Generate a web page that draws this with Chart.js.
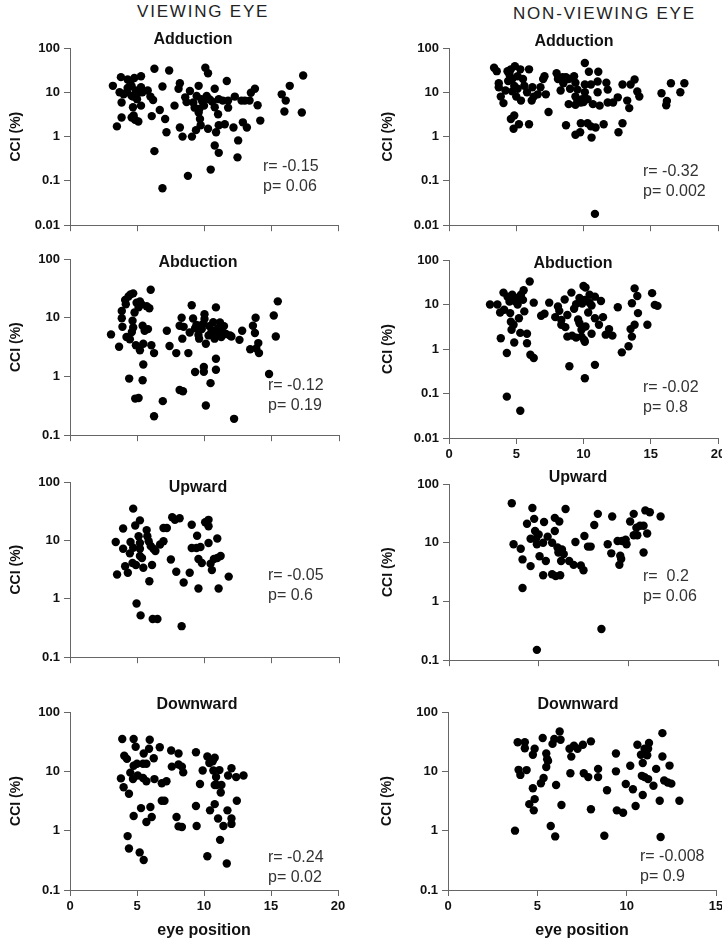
<!DOCTYPE html>
<html>
<head>
<meta charset="utf-8">
<script src="https://cdn.jsdelivr.net/npm/chart.js@4.4.1/dist/chart.umd.min.js"></script>
<style>
  html, body { margin: 0; padding: 0; background: #fff; overflow: hidden; }
  #wrap { position: relative; width: 722px; height: 941px; }
  #wrap canvas { position: absolute; }
  .head { position: absolute; font: 17px "Liberation Sans", Arial, sans-serif; letter-spacing: 1.8px;
          color: #222; white-space: nowrap; line-height: 17px; }
</style>
</head>
<body>
<div id="wrap">
  <div class="head" style="left:137px;top:3px">VIEWING EYE</div>
  <div class="head" style="left:513px;top:5px">NON-VIEWING EYE</div>
</div>
<script>
// ---------- datos (x = eye position, y = CCI %) ----------
const vAdd = [[3.2,14],[3.5,1.7],[3.8,22],[3.85,5.9],[3.85,2.7],[3.7,10],[4.3,19.5],[4.3,12.6],[4.25,10],[4.6,8.3],[4.6,13.8],[4.8,21],[4.7,4.6],[4.75,3],[4.6,2.7],[4.85,2.4],[5.1,2.2],[4.7,8],[5.3,23],[5.3,13],[5.2,10],[5.4,10],[5.3,5],[5.8,11],[6.0,8],[6.2,6.7],[6.1,2.9],[6.3,34],[6.7,4],[6.9,13.5],[7.1,2.5],[7.2,1.25],[6.3,0.47],[6.9,0.068],[7.4,31],[7.8,5],[8.1,12],[8.2,16],[8.2,1.6],[8.4,1.0],[8.6,7.7],[8.7,6],[8.8,0.13],[9.1,1.0],[9.4,1.4],[8.95,10.7],[9.2,5.9],[9.45,8.3],[9.6,14],[9.6,3.5],[9.65,4.2],[9.7,2.5],[9.75,1.8],[9.8,7],[10.1,36],[10.3,27],[10.0,5],[10.2,8.3],[10.4,7],[10.3,1.5],[10.5,0.18],[10.8,12],[10.8,4.6],[10.8,0.63],[10.9,1.25],[11.05,3.2],[11.1,1.8],[11.1,0.43],[11.1,7],[11.7,18],[11.8,6.5],[11.8,4.5],[11.55,1.9],[12.2,1.6],[12.3,8],[12.55,0.82],[12.5,0.34],[12.9,2.1],[13.2,1.6],[13.05,6.5],[13.4,6.5],[13.5,9.8],[13.8,12],[14.0,5.1],[14.2,2.3],[15.8,9.0],[16.1,6.5],[16.0,3.7],[16.4,14],[17.3,3.5],[17.4,24],[4.0,9],[4.9,11],[5.0,7],[9.9,6],[10.6,6.2],[9.3,4.5],[11.4,6.5],[12.8,6.5],[4.5,17]];
const nAdd = [[3.35,36],[3.55,30],[3.7,16],[3.7,13],[3.85,8],[4.05,5.7],[4.35,30],[4.5,25],[4.6,33],[4.7,20],[4.85,14],[4.7,10.5],[4.9,39],[5.1,23],[5.1,12],[5.0,8],[5.35,6.5],[4.6,2.5],[4.85,3],[4.8,1.5],[5.2,1.9],[5.95,1.9],[5.3,33],[5.5,20],[5.6,14],[5.95,33],[6.2,13],[6.15,6.5],[6.3,8],[6.6,9],[7.0,20],[7.1,23],[7.2,9],[7.4,3.6],[8.0,27],[8.1,20],[8.3,11],[8.45,22],[8.7,22],[8.9,20],[8.7,1.8],[8.9,5.4],[9.3,23],[9.4,16.5],[9.55,11.5],[9.4,8],[9.55,6.5],[9.4,5.2],[9.8,5.9],[10.1,46],[10.1,15],[10.1,10],[9.9,7],[9.8,2],[9.4,1.1],[9.75,1.25],[10.3,7],[10.4,29],[10.55,15],[10.7,5.4],[10.3,2],[10.55,1.7],[10.6,0.95],[10.9,1.6],[11.1,29],[11.05,17.5],[11.05,10],[11.2,5],[11.5,1.9],[11.7,16.5],[11.8,11.5],[11.8,5.9],[12.2,5.9],[12.55,7.7],[12.6,1.25],[12.9,2],[12.9,15],[13.25,6.5],[13.4,4.4],[13.5,15],[13.8,19.5],[14.0,10.4],[14.15,8],[10.85,0.018],[15.8,9.5],[16.15,5.1],[16.2,6.4],[16.5,16],[17.2,10],[17.5,16],[4.2,11],[4.4,18],[5.8,10],[9.0,12],[10.0,6],[8.5,16],[6.8,13]];
const vAbd = [[3.05,5.2],[3.65,3.2],[3.85,13],[3.85,9.8],[3.9,7],[4.1,20],[4.15,17],[4.35,23],[4.5,25],[4.7,26],[4.2,4.7],[4.45,4.3],[4.6,5.7],[4.65,8.9],[4.7,6.8],[4.8,12.3],[4.9,3.4],[4.95,18],[5.1,15],[5.2,2.8],[5.2,19],[5.3,17],[5.4,7.3],[5.45,3.6],[5.55,6],[5.7,15.7],[5.8,6.4],[5.9,14.5],[6.0,30],[6.05,3.4],[6.25,2.5],[5.45,1.6],[5.4,0.86],[4.4,0.92],[4.85,0.42],[5.1,0.43],[6.25,0.21],[6.9,0.38],[7.2,6.0],[7.4,3.3],[7.9,2.5],[8.15,7.3],[8.3,10],[8.35,4.4],[8.45,7],[8.8,2.5],[8.15,0.59],[8.4,0.56],[9.05,16.3],[9.15,9.7],[9.3,1.19],[8.9,5.6],[9.3,6.6],[9.55,5.1],[9.6,4.4],[9.65,7.3],[9.8,6.4],[9.9,7.8],[10.0,11.5],[10.0,9.5],[10.1,3.6],[9.95,1.45],[9.95,1.2],[10.1,0.32],[10.35,7.2],[10.45,0.77],[10.5,5.6],[10.65,8.4],[10.75,6.1],[10.75,4.4],[10.85,15],[10.85,2],[10.85,1.3],[11.0,5.6],[11.15,8.3],[11.25,4.7],[11.45,7.2],[11.6,5.3],[11.9,5],[12.2,0.19],[12.6,4.2],[12.8,6.0],[13.4,2.9],[13.6,7.3],[13.75,5.5],[13.8,10],[13.85,3],[14.0,3.7],[14.05,2.5],[14.8,1.1],[15.15,10.9],[15.3,4.8],[15.45,19],[9.4,7.5],[10.3,5],[11.0,6.5],[12.0,4.8],[11.3,5.8]];
const nAbd = [[3.05,10],[3.6,10],[3.8,6.6],[4.1,7.6],[3.85,1.75],[4.05,18.5],[4.35,15],[4.3,0.81],[4.3,0.085],[4.5,11.6],[4.55,6.4],[4.6,4.1],[4.65,2.7],[4.7,16.5],[4.8,3.5],[4.85,1.4],[5.0,14],[5.1,10],[5.2,4.9],[5.3,2.3],[5.3,0.041],[5.35,16.5],[5.5,12.7],[5.55,21],[5.6,7],[5.8,2.2],[5.8,1.35],[6.0,33],[6.05,0.74],[6.3,0.63],[6.3,11],[6.85,5.6],[7.1,6.2],[7.45,11],[7.9,5.2],[8.1,9],[8.2,7.2],[8.35,4.5],[8.35,3.5],[8.65,3.1],[8.8,5.8],[8.6,13],[8.8,1.9],[8.95,0.41],[9.1,18.5],[9.15,2],[9.45,1.8],[9.45,10.2],[9.6,4.6],[9.7,14],[9.7,3.8],[9.85,2.7],[9.85,1.9],[10.05,1.6],[10.0,26],[10.15,24],[10.1,12.7],[10.15,3.2],[10.1,1.45],[10.1,0.22],[10.35,6.6],[10.45,11],[10.45,16.5],[10.6,2.2],[10.85,15],[10.85,4.9],[10.85,0.44],[11.15,3.5],[11.3,12],[11.45,5.2],[11.65,2.1],[11.9,2.8],[12.15,2],[12.55,8.7],[12.85,0.84],[13.35,1.15],[13.5,2.8],[13.6,1.9],[13.6,10.7],[13.8,3.5],[13.8,23],[14.0,15.5],[14.05,6.4],[14.75,3.5],[15.1,18],[15.3,9.8],[15.5,9.3],[4.9,12],[5.2,13],[9.3,8],[9.9,10.5],[10.6,9.5]];
const vUp = [[3.4,9.4],[3.5,2.6],[3.95,7.2],[3.95,16],[4.1,3.6],[4.3,2.8],[4.45,6],[4.5,9.4],[4.7,35],[4.7,7.5],[4.85,18],[4.65,4.1],[4.9,3.8],[4.95,0.83],[5.1,11.8],[5.2,7.2],[5.2,9],[5.2,22],[5.2,5.4],[5.35,5],[5.25,0.52],[5.45,3.4],[5.7,15],[5.75,11.8],[5.85,9.7],[5.9,2],[6.1,3.8],[6.0,8],[6.15,0.45],[6.2,7.2],[6.35,6.6],[6.5,0.45],[6.7,8.5],[6.95,9.7],[6.95,16.3],[7.2,16.3],[7.5,4.7],[7.6,25],[7.8,22.5],[7.9,2.9],[8.15,24],[8.45,1.9],[8.3,0.34],[8.9,2.8],[9.05,18.5],[9.05,7.4],[9.45,12],[9.4,7.4],[9.55,4.8],[9.55,1.5],[9.7,7.7],[9.8,4.1],[10.05,20.5],[10.3,22.5],[10.3,17.5],[10.3,9],[10.45,4],[10.55,3.1],[10.7,4.8],[10.95,5],[10.95,10.8],[11.2,5.4],[11.05,1.5],[11.8,2.4]];
const nUp = [[3.5,47],[3.6,9.4],[4.0,7.9],[4.1,5.2],[4.1,1.7],[4.35,21],[4.55,11.7],[4.55,4],[4.65,39],[4.75,25.5],[4.8,15.8],[4.85,11.7],[4.9,9.4],[5.0,13.8],[4.9,0.15],[5.05,5.9],[5.3,22.5],[5.25,10],[5.25,2.8],[5.4,4.9],[5.5,12.7],[5.75,10],[5.75,2.9],[5.9,26.5],[5.9,15.8],[5.95,2.7],[6.05,8.3],[6.1,6.8],[6.15,23],[6.2,2.8],[6.25,4.9],[6.3,7.7],[6.4,6.4],[6.5,37.5],[6.7,4.9],[6.95,4.2],[7.05,10.3],[7.35,4.1],[7.5,3.4],[7.55,13],[7.75,8.6],[7.9,8.6],[8.1,20],[8.3,31],[8.5,0.34],[8.85,9.4],[9.05,6.6],[9.1,28],[9.4,10.7],[9.5,4.2],[9.55,6],[9.6,5.3],[9.65,10.7],[9.85,11.3],[9.9,9.4],[10.1,23],[10.3,31],[10.3,13.4],[10.45,18],[10.5,13.4],[10.65,19.5],[10.85,6.8],[10.85,19.5],[10.95,35.5],[11.05,14.4],[11.2,33],[11.8,28]];
const vDown = [[3.9,35],[3.8,7.6],[4.0,5.4],[4.05,18.3],[4.25,16.2],[4.4,4.2],[4.3,0.81],[4.4,0.5],[4.75,35],[4.9,26],[4.5,9.5],[4.7,7.4],[4.75,12.4],[4.75,1.77],[5.0,13.4],[5.05,8.5],[5.2,0.43],[5.3,2.4],[5.45,13.4],[5.45,7.7],[5.5,0.32],[5.5,20],[5.7,13.4],[5.7,6.8],[5.7,1.4],[5.95,34],[5.9,24],[6.0,2.5],[6.1,1.7],[6.25,16.6],[6.3,7.4],[6.7,25.5],[6.85,6.3],[6.85,3.2],[7.05,3.2],[7.2,6.8],[7.55,22.5],[7.6,12],[7.95,1.7],[8.1,13],[8.1,20],[8.35,12],[8.45,9.6],[8.1,1.18],[8.35,1.15],[9.4,21],[9.4,2.6],[9.45,1.2],[9.7,6.1],[9.9,10.3],[10.25,0.37],[10.25,17.8],[10.4,13.8],[10.45,2.2],[10.65,14.8],[10.7,10.3],[10.8,17],[10.8,5.9],[10.8,2.8],[10.9,8],[10.95,5.9],[11.05,1.6],[11.15,10.5],[11.2,0.7],[11.25,4.4],[11.3,5.9],[11.45,1.2],[11.75,2.2],[11.8,8.5],[11.7,0.28],[12.05,11.3],[12.05,1.6],[12.05,1.3],[12.4,8],[12.45,3.2],[12.95,8.5]];
const nDown = [[3.75,1.0],[3.9,31],[3.95,10.6],[4.05,8.7],[4.3,24.5],[4.3,31],[4.4,10.5],[4.55,2.8],[4.75,5.2],[4.75,19],[4.85,24],[4.85,3.4],[4.8,2.2],[5.2,6.3],[5.3,36.5],[5.35,7.7],[5.5,20],[5.5,11.8],[5.55,16],[5.6,15],[5.75,1.2],[5.85,29],[6.0,0.8],[6.05,5.9],[5.95,35],[6.25,47],[6.3,34],[6.35,2.7],[6.8,24],[6.9,17.7],[6.85,9.3],[7.05,27],[7.25,24],[7.55,28],[7.6,9.3],[7.85,8],[8.0,32],[8.0,2.3],[8.4,11],[8.4,8],[8.75,0.82],[8.9,4.8],[9.4,10],[9.4,20],[9.45,2.2],[9.8,2.0],[9.95,6.1],[10.2,12.4],[10.35,5],[10.5,2.6],[10.6,28],[10.8,19],[10.85,8.4],[10.9,4],[10.9,13.8],[11.0,24],[11.0,8],[11.15,18.6],[11.2,24],[11.25,30],[11.2,7.4],[11.5,5.7],[11.65,11],[11.85,3.2],[11.9,0.78],[12.0,44],[12.0,17.8],[12.1,7.0],[12.3,6.5],[12.4,12.5],[12.5,6.2],[12.95,3.2]];

const titulos = ["Adduction", "Adduction", "Abduction", "Abduction", "Upward", "Upward", "Downward", "Downward"];
const rTexto = ["r= -0.15", "r= -0.32", "r= -0.12", "r= -0.02", "r= -0.05", "r=  0.2", "r= -0.24", "r= -0.008"];
const pTexto = ["p= 0.06", "p= 0.002", "p= 0.19", "p= 0.8", "p= 0.6", "p= 0.06", "p= 0.02", "p= 0.9"];
const yTicks = [0.01, 0.1, 1, 10, 100];
const xTicks20 = [0, 5, 10, 15, 20];
const xTicks15 = [0, 5, 10, 15];

const FONT = "'Liberation Sans', Arial, sans-serif";
const EJE = "#666";

// caja del area de trazado en la pagina [izq, arriba, der, abajo] y ajustes de cada panel
const paneles = [
  { pts: vAdd,  box: [70, 48, 338, 227],  yMin: 0.01, xt: xTicks20, xLab: false, yw: 66, xh: 10, tx: 123, ty: -8, nx: 193, ny: 119 },
  { pts: nAdd,  box: [449, 48, 718, 227], yMin: 0.01, xt: xTicks20, xLab: false, yw: 73, xh: 10, tx: 125, ty: -6, nx: 194, ny: 124 },
  { pts: vAbd,  box: [70, 259, 339, 437], yMin: 0.1,  xt: xTicks20, xLab: false, yw: 66, xh: 10, tx: 128, ty: 4,  nx: 198, ny: 127 },
  { pts: nAbd,  box: [449, 260, 718, 438],yMin: 0.01, xt: xTicks20, xLab: true,  yw: 73, xh: 30, tx: 124, ty: 4,  nx: 194, ny: 128 },
  { pts: vUp,   box: [70, 482, 339, 659], yMin: 0.1,  xt: xTicks20, xLab: false, yw: 66, xh: 10, tx: 128, ty: 6,  nx: 198, ny: 94 },
  { pts: nUp,   box: [449, 484, 718, 662],yMin: 0.1,  xt: xTicks15, xLab: false, yw: 73, xh: 10, tx: 129, ty: -6, nx: 194, ny: 93 },
  { pts: vDown, box: [70, 712, 338, 890], yMin: 0.1,  xt: xTicks20, xLab: true,  yw: 66, xh: 54, tx: 127, ty: -7, nx: 198, ny: 146, xTitle: true },
  { pts: nDown, box: [448, 712, 716, 890],yMin: 0.1,  xt: xTicks15, xLab: true,  yw: 73, xh: 54, tx: 130, ty: -7, nx: 192, ny: 145, xTitle: true },
];

const ARRIBA = 30, DER = 12;

const notas = {
  id: "notas",
  afterDraw(chart, args, o) {
    const { ctx, chartArea: a } = chart;
    ctx.save();
    ctx.fillStyle = "#111";
    ctx.font = "bold 16px " + FONT;
    ctx.textAlign = "center";
    ctx.textBaseline = "middle";
    ctx.fillText(o.titulo, a.left + o.tx, a.top + o.ty);
    ctx.fillStyle = "#333";
    ctx.font = "16px " + FONT;
    ctx.textAlign = "left";
    ctx.fillText(o.r, a.left + o.nx, a.top + o.ny);
    ctx.fillText(o.p, a.left + o.nx, a.top + o.ny + 20);
    ctx.restore();
  }
};

const wrap = document.getElementById("wrap");

paneles.forEach((pn, i) => {
  const [l, t, r, b] = pn.box;
  const cv = document.createElement("canvas");
  const w = (r - l) + pn.yw + DER;
  const h = (b - t) + ARRIBA + pn.xh;
  cv.width = w;
  cv.height = h;
  cv.style.left = (l - pn.yw) + "px";
  cv.style.top = (t - ARRIBA) + "px";
  cv.style.width = w + "px";
  cv.style.height = h + "px";
  wrap.appendChild(cv);

  new Chart(cv.getContext("2d"), {
    type: "scatter",
    data: {
      datasets: [{
        data: pn.pts.map(([x, y]) => ({ x, y })),
        backgroundColor: "#000",
        borderWidth: 0,
        pointRadius: 4.2,
      }]
    },
    options: {
      responsive: false,
      animation: false,
      events: [],
      layout: { padding: { top: ARRIBA, right: DER, left: 0, bottom: 0 } },
      plugins: {
        legend: { display: false },
        tooltip: { enabled: false },
        notas: { titulo: titulos[i], r: rTexto[i], p: pTexto[i], tx: pn.tx, ty: pn.ty, nx: pn.nx, ny: pn.ny },
      },
      scales: {
        x: {
          type: "linear",
          min: 0,
          max: pn.xt[pn.xt.length - 1],
          afterBuildTicks: (s) => { s.ticks = pn.xt.map(v => ({ value: v })); },
          afterFit: (s) => { s.height = pn.xh; },
          border: { color: EJE, width: 1 },
          grid: { drawOnChartArea: false, drawTicks: true, tickLength: 6, color: EJE },
          ticks: { display: pn.xLab, color: "#111", padding: 3, maxRotation: 0, font: { family: FONT, size: 13, weight: "bold" } },
          title: {
            display: !!pn.xTitle, text: "eye position", color: "#111",
            font: { family: FONT, size: 16, weight: "bold" }, padding: { top: 0, bottom: 4 }
          },
        },
        y: {
          type: "logarithmic",
          min: pn.yMin,
          max: 100,
          afterBuildTicks: (s) => { s.ticks = yTicks.filter(v => v >= pn.yMin).map(v => ({ value: v })); },
          afterFit: (s) => { s.width = pn.yw; },
          border: { color: EJE, width: 1 },
          grid: { drawOnChartArea: false, drawTicks: true, tickLength: 6, color: EJE },
          ticks: { color: "#111", padding: 4, font: { family: FONT, size: 13, weight: "bold" }, callback: (v) => String(v) },
          title: {
            display: true, text: "CCI (%)", color: "#111",
            font: { family: FONT, size: 14, weight: "bold" }, padding: { top: 4, bottom: 4 }
          },
        },
      },
    },
    plugins: [notas],
  });
});
</script>
</body>
</html>
